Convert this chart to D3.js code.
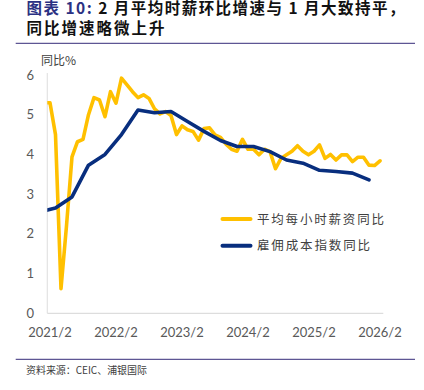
<!DOCTYPE html>
<html><head><meta charset="utf-8">
<script src="https://cdn.jsdelivr.net/npm/d3@7"></script>
<style>body{margin:0;background:#fff}</style>
</head><body><svg id="c" width="424" height="390"></svg>
<script>
// ---- data ----
const wageStart = "2021/1"; // first month of the hourly-earnings series (monthly)
const wageYoY = [5.3, 5.3, 4.5, 0.62, 2.2, 3.94, 4.32, 4.38, 5.0, 5.43, 5.37, 4.95, 5.58,
  5.29, 5.92, 5.75, 5.58, 5.43, 5.5, 5.41, 5.15, 5.02, 5.08, 4.98, 4.5,
  4.72, 4.62, 4.58, 4.36, 4.65, 4.67, 4.49, 4.43, 4.26, 4.13, 4.08, 4.38,
  4.13, 4.13, 3.99, 4.13, 4.07, 3.64, 3.9, 3.99, 4.08, 4.22, 4.08, 3.99,
  4.08, 4.24, 3.9, 4.0, 3.86, 3.99, 3.99, 3.82, 3.93, 3.93, 3.73, 3.72, 3.84];
const eciDates = ["2020/12","2021/3","2021/6","2021/9","2021/12","2022/3","2022/6","2022/9","2022/12",
  "2023/3","2023/6","2023/9","2023/12","2024/3","2024/6","2024/9","2024/12",
  "2025/3","2025/6","2025/9","2025/12"];
const eciYoY = [2.55, 2.65, 2.93, 3.73, 4.0, 4.5, 5.12, 5.05, 5.08,
  4.83, 4.58, 4.35, 4.2, 4.2, 4.07, 3.86, 3.78,
  3.6, 3.57, 3.53, 3.36];
const xTickLabels = ["2021/2","2022/2","2023/2","2024/2","2025/2","2026/2"];
const yTicks = [0,1,2,3,4,5,6];
const seriesNames = ["平均每小时薪资同比","雇佣成本指数同比"];
const titleLines = ["图表 10:", " 2 月平均时薪环比增速与 1 月大致持平，", "同比增速略微上升"];
const yUnit = "同比%";
const source = "资料来源：CEIC、浦银国际";

// ---- helpers ----
const monthIdx = s => { const [y,m] = s.split("/").map(Number); return (y-2021)*12 + (m-2); };
const wage0 = monthIdx(wageStart);
const wageData = wageYoY.map((v,i)=>({m: wage0 + i, v}));
const eciData = eciDates.map((d,i)=>({m: monthIdx(d), v: eciYoY[i]}));

const svg = d3.select("#c");
const L = 47.3, R = 383.3, T = 75, B = 313.3;
const x = d3.scaleLinear().domain([-0.49, 60.6]).range([L, R]);
const y = d3.scaleLinear().domain([0, 6]).range([B, T]);

const YEL = "#FFC000", NAVY = "#082E7E", TXT = "#595959";

// title
const t1 = svg.append("text").attr("x", 26.5).attr("y", 14)
  .attr("font-family", "'Noto Sans CJK SC'").attr("font-weight", "bold").attr("font-size", 15.5)
  .attr("textLength", 378).attr("lengthAdjust", "spacing");
t1.append("tspan").attr("fill", "#2B3183").text(titleLines[0]);
t1.append("tspan").attr("fill", "#111").text(titleLines[1]);
svg.append("text").attr("x", 26.5).attr("y", 34)
  .attr("font-family", "'Noto Sans CJK SC'").attr("font-weight", "bold").attr("font-size", 15.5)
  .attr("fill", "#111").attr("textLength", 138).attr("lengthAdjust", "spacing").text(titleLines[2]);

// separator lines
svg.append("line").attr("x1", 15.7).attr("x2", 415).attr("y1", 43.3).attr("y2", 43.3)
  .attr("stroke", "#5E5694").attr("stroke-width", 1.2);
svg.append("line").attr("x1", 15.7).attr("x2", 415).attr("y1", 359.3).attr("y2", 359.3)
  .attr("stroke", "#5E5694").attr("stroke-width", 1.2);

// source
svg.append("text").attr("x", 26).attr("y", 374.3).attr("font-family", "'Noto Sans CJK SC'")
  .attr("font-size", 10).attr("fill", "#404040").attr("textLength", 121).attr("lengthAdjust", "spacing").text(source);

// unit label
svg.append("text").attr("x", 41).attr("y", 64.5).attr("font-family", "'Noto Sans CJK SC'")
  .attr("font-size", 12).attr("fill", "#404040").text(yUnit);

// axes
svg.append("line").attr("x1", L).attr("x2", L).attr("y1", T - 2).attr("y2", B)
  .attr("stroke", "#E3E3E3").attr("stroke-width", 1.2);
svg.append("line").attr("x1", L).attr("x2", R).attr("y1", B).attr("y2", B)
  .attr("stroke", "#DDDDDD").attr("stroke-width", 1.2);

svg.append("g").selectAll("text").data(yTicks).join("text")
  .attr("x", 34).attr("y", d => y(d) + 4.6).attr("text-anchor", "end")
  .attr("font-family", "Lato").attr("font-size", 13).attr("fill", TXT).text(d => d);

svg.append("g").selectAll("text").data(xTickLabels).join("text")
  .attr("x", d => x(monthIdx(d))).attr("y", 337).attr("text-anchor", "middle")
  .attr("font-family", "Lato").attr("font-size", 13).attr("fill", TXT).text(d => d);

// clip
svg.append("defs").append("clipPath").attr("id", "pc").append("rect")
  .attr("x", L).attr("y", T - 20).attr("width", R - L + 10).attr("height", B - T + 20);

const line = d3.line().x(d => x(d.m)).y(d => y(d.v));
const g = svg.append("g").attr("clip-path", "url(#pc)");
g.append("path").datum(wageData).attr("d", line).attr("fill", "none")
  .attr("stroke", YEL).attr("stroke-width", 3.6).attr("stroke-linejoin", "round").attr("stroke-linecap", "round");
g.append("path").datum(eciData).attr("d", line).attr("fill", "none")
  .attr("stroke", NAVY).attr("stroke-width", 3.6).attr("stroke-linejoin", "round").attr("stroke-linecap", "round");

// legend
const leg = svg.append("g").selectAll("g").data([[seriesNames[0], YEL, 219], [seriesNames[1], NAVY, 245.7]]).join("g");
leg.append("line").attr("x1", 222.5).attr("x2", 250.5).attr("y1", d => d[2]).attr("y2", d => d[2])
  .attr("stroke", d => d[1]).attr("stroke-width", 4).attr("stroke-linecap", "round");
leg.append("text").attr("x", 257).attr("y", d => d[2] + 4.5)
  .attr("font-family", "'Noto Sans CJK SC'").attr("font-size", 12.5).attr("fill", "#404040")
  .attr("textLength", (d, i) => i === 0 ? 127 : 113).attr("lengthAdjust", "spacing").text(d => d[0]);
</script></body></html>
